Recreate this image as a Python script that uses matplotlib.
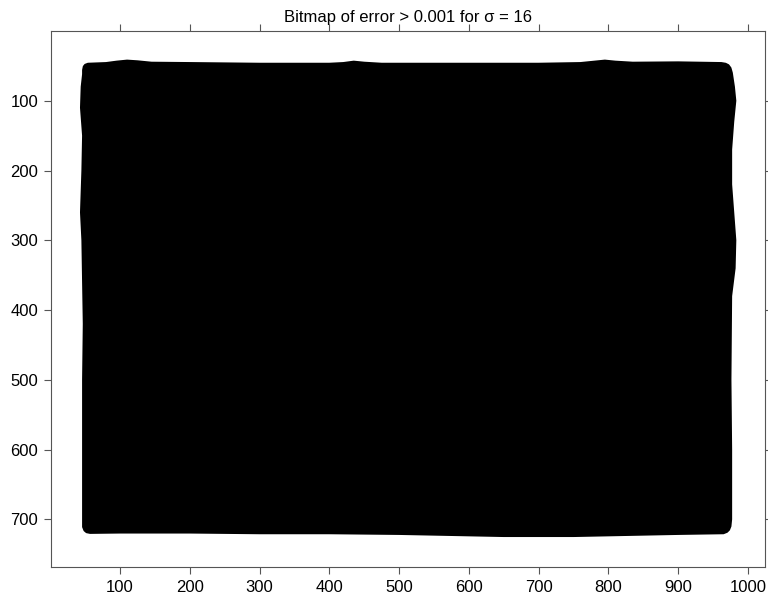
import matplotlib
matplotlib.use('Agg')
import matplotlib.pyplot as plt
import numpy as np

plt.rcParams['font.family'] = ['Liberation Sans', 'DejaVu Sans']

# image size of the bitmap (pixels)
img_w, img_h = 1024, 768

# boundary of the region where error > 0.001 (image coordinates)
top_x = [47, 48, 50, 54, 80, 95, 110, 125, 145, 200, 300, 400, 420, 435, 450, 475, 600, 700, 760, 780, 795, 810, 835, 900, 962, 968, 972]
top_y = [56, 51, 48.5, 47, 46, 44, 42.5, 43.5, 45.5, 46, 47, 47, 46, 44, 45.5, 47, 47, 47, 46, 44, 42.5, 44, 45.5, 45, 46, 47, 49]
right_y = [53, 60, 80, 100, 130, 170, 220, 260, 300, 340, 380, 500, 600, 700, 710, 715]
right_x = [975, 977, 980, 982, 979, 976, 976, 979, 982, 981, 976, 975, 976, 976, 975, 973]
bottom_x = [970, 965, 900, 800, 750, 700, 650, 600, 500, 400, 300, 200, 100, 57, 52, 49]
bottom_y = [718, 720, 721, 723, 724, 724, 724, 723, 721, 720, 720, 719, 719, 719.5, 718.5, 716]
left_y = [711, 600, 500, 420, 300, 260, 230, 200, 150, 110, 80, 62]
left_x = [47, 47, 47, 48, 46, 44, 45, 46, 47, 44, 45, 47]

title = 'Bitmap of error > 0.001 for \u03c3 = 16'
xticks = [100, 200, 300, 400, 500, 600, 700, 800, 900, 1000]
yticks = [100, 200, 300, 400, 500, 600, 700]

fig = plt.figure(figsize=(7.68, 6.02), dpi=100)
ax = fig.add_axes([0.066, 0.058, 0.930, 0.890])

poly_x = top_x + right_x + bottom_x + left_x
poly_y = top_y + right_y + bottom_y + left_y
ax.fill(poly_x, poly_y, color='black', lw=1.5, edgecolor='black', joinstyle='round')

ax.set_xlim(0.5, img_w + 0.5)
ax.set_ylim(img_h + 0.5, 0.5)
ax.set_aspect('equal')

ax.set_xticks(xticks)
ax.set_yticks(yticks)
ax.tick_params(direction='out', length=5, width=0.8, color='#555555',
               top=True, right=True, labelsize=12, labelcolor='black', pad=4)
for s in ax.spines.values():
    s.set_color('#555555')
    s.set_linewidth(0.8)

ax.set_title(title, fontsize=12, pad=7)

fig.savefig('out.png', dpi=100)
